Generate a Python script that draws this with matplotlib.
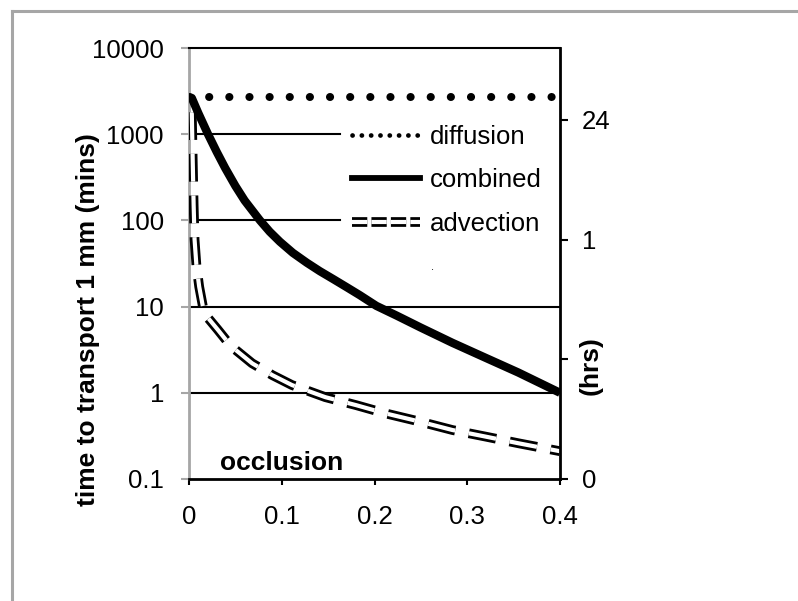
import matplotlib
matplotlib.use("Agg")
import matplotlib.pyplot as plt
from matplotlib.lines import Line2D
from matplotlib.ticker import NullLocator, FixedLocator, FixedFormatter
from matplotlib.legend_handler import HandlerTuple

plt.rcParams['font.family'] = ['Liberation Sans', 'DejaVu Sans']
plt.rcParams['lines.scale_dashes'] = False

# ---- data ----
diff_x = [0.0, 0.4]
diffusion = [2700, 2700]

comb_x = [0.0, 0.003, 0.01, 0.0205, 0.03, 0.039, 0.05, 0.06, 0.0765, 0.087,
          0.098, 0.112, 0.127, 0.141, 0.156, 0.17, 0.184, 0.202, 0.224, 0.25,
          0.284, 0.32, 0.355, 0.4]
combined = [2700, 2630, 1760, 1000, 620, 405, 251, 170, 100, 74,
            56.6, 42, 32.3, 25.8, 20.7, 16.8, 13.6, 10.2, 7.85, 5.7,
            3.8, 2.54, 1.72, 1.0]

adv_x = [0.003, 0.004, 0.005, 0.006, 0.008, 0.011, 0.015, 0.02, 0.031, 0.045,
         0.068, 0.09, 0.111, 0.147, 0.18, 0.211, 0.25, 0.284, 0.32, 0.355, 0.4]
advection = [1800, 500, 150, 60, 30, 17, 10, 7.5, 5.4, 3.5,
             2.2, 1.6, 1.23, 0.89, 0.72, 0.58, 0.46, 0.37, 0.31, 0.26, 0.21]

x_ticks = [0, 0.1, 0.2, 0.3, 0.4]
x_labels = ['0', '0.1', '0.2', '0.3', '0.4']
y_ticks = [0.1, 1, 10, 100, 1000, 10000]
y_labels = ['0.1', '1', '10', '100', '1000', '10000']
grid_full = [1, 10]
grid_short = [100, 1000]
r_ticks = [0, 1, 2, 3]
r_labels = ['0', '', '1', '24']

W, H = 798, 601
FS = 18.5
FSB = 19

fig = plt.figure(figsize=(W / 100, H / 100), dpi=100)
fig.patch.set_facecolor('white')

# outer gray frame (top and left edges visible)
fig.add_artist(Line2D([12 / W, 12 / W], [0, 1 - 11 / H], transform=fig.transFigure,
                      color='#a6a6a6', lw=2.2))
fig.add_artist(Line2D([12 / W, 1], [1 - 11 / H, 1 - 11 / H], transform=fig.transFigure,
                      color='#a6a6a6', lw=2.2))

ax = fig.add_axes([189 / W, 1 - 479 / H, 371 / W, 431 / H])
ax.set_yscale('log')
ax.set_xlim(0, 0.4)
ax.set_ylim(0.1, 10000)
ax.set_facecolor('none')

for g in grid_full:
    ax.axhline(g, color='black', lw=1.5, zorder=1)
for g in grid_short:
    ax.axhline(g, xmin=0, xmax=(340 - 189) / 371, color='black', lw=1.5, zorder=1)

# advection: double dashed line
dash = (0, (20, 10))
ax.plot(adv_x, advection, color='black', lw=7, ls=dash, dash_capstyle='butt',
        dash_joinstyle='round', zorder=3)
ax.plot(adv_x, advection, color='white', lw=3, ls=dash, dash_capstyle='butt',
        dash_joinstyle='round', zorder=3.1)
# diffusion: round dots
ax.plot(diff_x, diffusion, color='black', lw=5.8, ls=(0, (0.1, 14.4)),
        dash_capstyle='round', zorder=3.2)
# combined
ax.plot(comb_x, combined, color='black', lw=6, solid_capstyle='butt',
        solid_joinstyle='round', zorder=4)

ax.yaxis.set_major_locator(FixedLocator(y_ticks))
ax.yaxis.set_major_formatter(FixedFormatter(y_labels))
ax.yaxis.set_minor_locator(NullLocator())
ax.set_xticks(x_ticks)
ax.set_xticklabels(x_labels)
ax.tick_params(axis='y', direction='out', length=6, width=1.5, color='#a6a6a6',
               labelsize=FS, pad=12)
ax.tick_params(axis='x', direction='out', length=4.5, width=1.5, color='black',
               labelsize=FS, pad=14.5)

ax.spines['left'].set_color('#a6a6a6')
ax.spines['left'].set_linewidth(2)
ax.spines['bottom'].set_color('black')
ax.spines['bottom'].set_linewidth(2)
ax.spines['top'].set_color('black')
ax.spines['top'].set_linewidth(1.5)
ax.spines['right'].set_visible(False)

ax2 = ax.twinx()
ax2.set_ylim(0, 3.6)
ax2.set_yticks(r_ticks)
ax2.set_yticklabels(r_labels)
ax2.tick_params(axis='y', direction='out', length=5.5, width=1.5, color='black',
                labelsize=FS, pad=10)
for s in ['left', 'top', 'bottom']:
    ax2.spines[s].set_visible(False)
ax2.spines['right'].set_color('black')
ax2.spines['right'].set_linewidth(2)

# legend with proxy handles
h_diff = Line2D([], [], color='black', lw=3.4, ls=(0, (0.1, 6.6)), dash_capstyle='round')
h_comb = Line2D([], [], color='black', lw=4.2)
h_adv_b = Line2D([], [], color='black', lw=7, ls=(0, (11, 3)))
h_adv_w = Line2D([], [], color='white', lw=3, ls=(0, (11, 3)))
leg = fig.legend([h_diff, h_comb, (h_adv_b, h_adv_w)],
                 ['diffusion', 'combined', 'advection'],
                 handler_map={tuple: HandlerTuple(ndivide=1, pad=0)},
                 loc='upper left', bbox_to_anchor=(352 / W, 1 - 125 / H),
                 frameon=False, fontsize=FS, handlelength=2.65,
                 handletextpad=0.4, labelspacing=0.75, borderpad=0,
                 borderaxespad=0)

fig.text(88 / W, 1 - 320 / H, 'time to transport 1 mm (mins)', rotation=90,
         ha='center', va='center', fontsize=FSB, fontweight='bold')
fig.text(591 / W, 1 - 366 / H, '(hrs)', rotation=90, ha='center', va='center',
         fontsize=FSB, fontweight='bold')
fig.text(220 / W, 1 - 470 / H, 'occlusion', ha='left', va='baseline',
         fontsize=FSB, fontweight='bold')
fig.text(432 / W, 1 - 267 / H, '.', ha='center', va='center', fontsize=8)

fig.savefig('out.png', dpi=100, facecolor='white')
